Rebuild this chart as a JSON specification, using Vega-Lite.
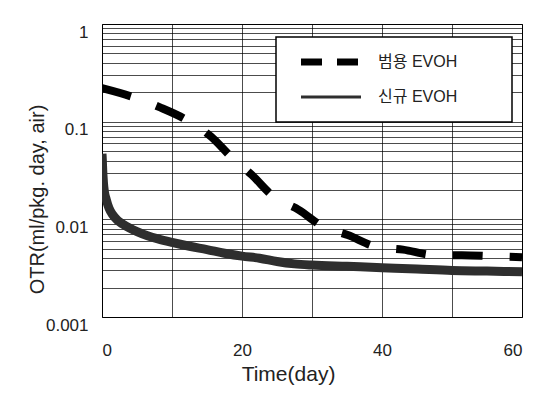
{
  "$schema": "https://vega.github.io/schema/vega-lite/v6.json",
  "width": 420,
  "height": 293,
  "autosize": {"type": "none"},
  "padding": {"left": 102, "top": 24, "right": 11, "bottom": 92},
  "background": "white",
  "config": {"view": {"stroke": "black", "strokeWidth": 1}, "font": "Liberation Sans"},
  "data": {
    "values": [
      {"series": "범용 EVOH", "day": 0, "otr": 0.22},
      {"series": "범용 EVOH", "day": 4.9, "otr": 0.174},
      {"series": "범용 EVOH", "day": 8.3, "otr": 0.14},
      {"series": "범용 EVOH", "day": 12.1, "otr": 0.104},
      {"series": "범용 EVOH", "day": 15.6, "otr": 0.07},
      {"series": "범용 EVOH", "day": 18.4, "otr": 0.044},
      {"series": "범용 EVOH", "day": 21.4, "otr": 0.0285},
      {"series": "범용 EVOH", "day": 24.5, "otr": 0.0171},
      {"series": "범용 EVOH", "day": 28.1, "otr": 0.0125},
      {"series": "범용 EVOH", "day": 31.6, "otr": 0.0084},
      {"series": "범용 EVOH", "day": 35.1, "otr": 0.0069},
      {"series": "범용 EVOH", "day": 39.4, "otr": 0.0052},
      {"series": "범용 EVOH", "day": 43, "otr": 0.0049},
      {"series": "범용 EVOH", "day": 47.6, "otr": 0.0043},
      {"series": "범용 EVOH", "day": 51.4, "otr": 0.0043},
      {"series": "범용 EVOH", "day": 55.7, "otr": 0.0042},
      {"series": "범용 EVOH", "day": 60, "otr": 0.0041},
      {"series": "신규 EVOH", "day": 0, "otr": 0.047},
      {"series": "신규 EVOH", "day": 0.05, "otr": 0.04},
      {"series": "신규 EVOH", "day": 0.1, "otr": 0.032},
      {"series": "신규 EVOH", "day": 0.2, "otr": 0.024},
      {"series": "신규 EVOH", "day": 0.35, "otr": 0.019},
      {"series": "신규 EVOH", "day": 0.6, "otr": 0.016},
      {"series": "신규 EVOH", "day": 1.0, "otr": 0.013},
      {"series": "신규 EVOH", "day": 1.5, "otr": 0.0112},
      {"series": "신규 EVOH", "day": 2.2, "otr": 0.0098},
      {"series": "신규 EVOH", "day": 3, "otr": 0.0089},
      {"series": "신규 EVOH", "day": 4, "otr": 0.0081},
      {"series": "신규 EVOH", "day": 5, "otr": 0.0075},
      {"series": "신규 EVOH", "day": 6.5, "otr": 0.0068},
      {"series": "신규 EVOH", "day": 8, "otr": 0.0063},
      {"series": "신규 EVOH", "day": 10, "otr": 0.0058},
      {"series": "신규 EVOH", "day": 12.5, "otr": 0.0053},
      {"series": "신규 EVOH", "day": 15, "otr": 0.0049},
      {"series": "신규 EVOH", "day": 17.5, "otr": 0.0045},
      {"series": "신규 EVOH", "day": 20, "otr": 0.0042},
      {"series": "신규 EVOH", "day": 22.5, "otr": 0.004},
      {"series": "신규 EVOH", "day": 25, "otr": 0.0037},
      {"series": "신규 EVOH", "day": 27.5, "otr": 0.0035},
      {"series": "신규 EVOH", "day": 30, "otr": 0.0034},
      {"series": "신규 EVOH", "day": 35, "otr": 0.0033},
      {"series": "신규 EVOH", "day": 40, "otr": 0.0032},
      {"series": "신규 EVOH", "day": 45, "otr": 0.0031},
      {"series": "신규 EVOH", "day": 50, "otr": 0.003},
      {"series": "신규 EVOH", "day": 55, "otr": 0.00295},
      {"series": "신규 EVOH", "day": 60, "otr": 0.0029}
    ]
  },
  "encoding": {
    "x": {
      "field": "day",
      "type": "quantitative",
      "scale": {"domain": [0, 60], "nice": false, "zero": false},
      "axis": {
        "values": [0, 10, 20, 30, 40, 50, 60],
        "labelExpr": "datum.value % 20 === 0 ? datum.label : ''",
        "grid": true,
        "gridColor": "#000",
        "gridOpacity": 0.7,
        "ticks": false,
        "domain": false,
        "labelPadding": 25,
        "labelFontSize": 17,
        "labelFont": "Liberation Sans",
        "labelColor": "#222",
        "labelOverlap": false,
        "title": "Time(day)",
        "titleFont": "Liberation Sans",
        "titleFontSize": 21,
        "titleFontWeight": "normal",
        "titleColor": "#222",
        "titleX": 186,
        "titleY": 63,
        "titleBaseline": "alphabetic",
        "titleAlign": "center"
      }
    },
    "y": {
      "field": "otr",
      "type": "quantitative",
      "scale": {"type": "log", "domain": [0.001, 1], "nice": false},
      "axis": {
        "values": [0.001, 0.002, 0.003, 0.004, 0.005, 0.006, 0.007, 0.008, 0.009, 0.01, 0.02, 0.03, 0.04, 0.05, 0.06, 0.07, 0.08, 0.09, 0.1, 0.2, 0.3, 0.4, 0.5, 0.6, 0.7, 0.8, 0.9, 1],
        "format": "~g",
        "labelExpr": "indexof(['1','0.1','0.01','0.001'], datum.label) >= 0 ? datum.label : ''",
        "grid": true,
        "gridColor": "#000",
        "gridOpacity": 0.7,
        "ticks": false,
        "domain": false,
        "labelPadding": 14,
        "labelBaseline": "top",
        "labelFontSize": 17,
        "labelFont": "Liberation Sans",
        "labelColor": "#222",
        "labelOverlap": false,
        "labelBound": false,
        "title": "OTR(ml/pkg. day, air)",
        "titleFont": "Liberation Sans",
        "titleFontSize": 20,
        "titleFontWeight": "normal",
        "titleColor": "#222",
        "titleX": -59,
        "titleY": 175,
        "titleAngle": 270,
        "titleAlign": "center",
        "titleBaseline": "alphabetic"
      }
    },
    "color": {
      "field": "series",
      "type": "nominal",
      "scale": {"domain": ["범용 EVOH", "신규 EVOH"], "range": ["#000000", "#2e2e2e"]},
      "legend": {
        "orient": "none",
        "legendX": 174,
        "legendY": 13,
        "title": null,
        "symbolType": "stroke",
        "symbolSize": 576,
        "strokeColor": "#000",
        "fillColor": "white",
        "padding": 17,
        "rowPadding": 13,
        "labelFontSize": 16,
        "labelFont": "Liberation Sans, Noto Sans CJK KR",
        "labelColor": "#222",
        "encode": {
          "legend": {"update": {"strokeWidth": {"value": 1.5}}},
          "symbols": {
            "update": {
              "x": {"value": 98},
              "size": {"value": 32400},
              "strokeDash": {"signal": "datum.value === '범용 EVOH' ? [21, 15, 21, 400] : [60, 400]"},
              "strokeWidth": {"signal": "datum.value === '범용 EVOH' ? 7 : 3"}
            }
          },
          "labels": {
            "update": {"x": {"value": 85}}
          }
        }
      }
    }
  },
  "layer": [
    {
      "transform": [{"filter": "datum.series === '범용 EVOH'"}],
      "mark": {"type": "line", "strokeCap": "butt", "clip": true, "interpolate": "monotone", "strokeWidth": 8, "strokeDash": [30, 27]}
    },
    {
      "transform": [{"filter": "datum.series === '신규 EVOH'"}],
      "mark": {"type": "line", "strokeCap": "butt", "clip": true, "interpolate": "monotone", "strokeWidth": 9}
    }
  ]
}
